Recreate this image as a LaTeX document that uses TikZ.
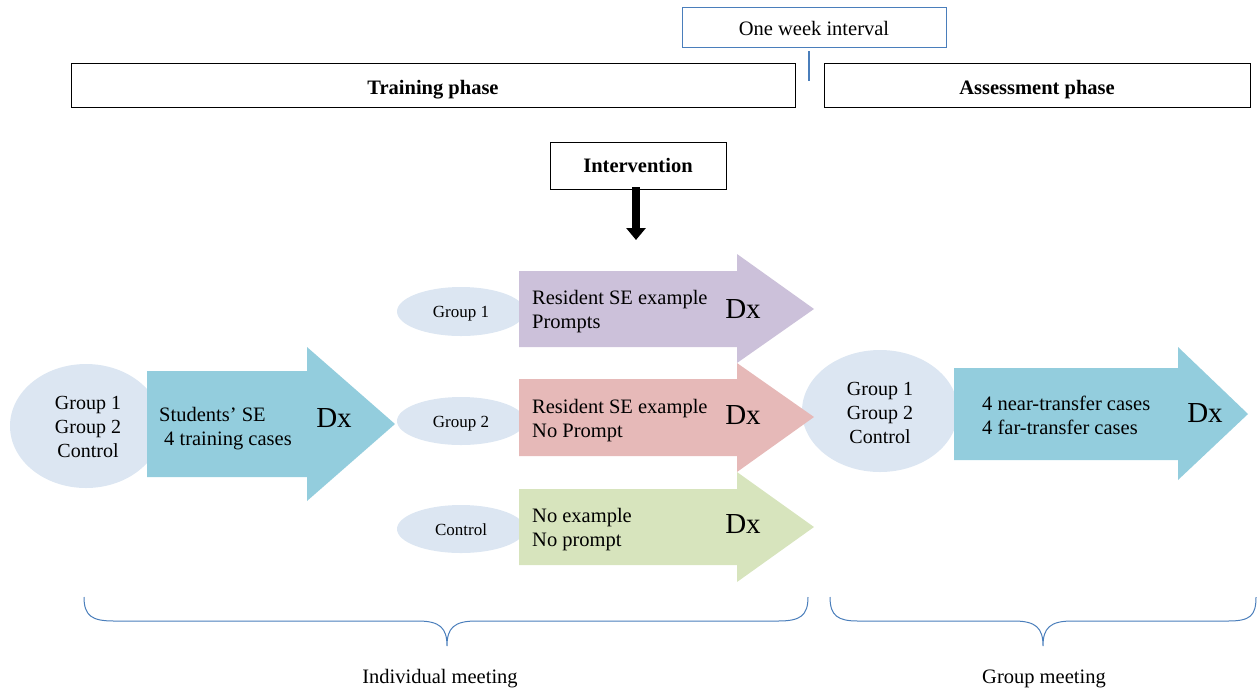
\documentclass[tikz,border=0pt]{standalone}
\usepackage{fontspec}
\setmainfont{Liberation Serif}
\usetikzlibrary{shapes.geometric,arrows.meta}
\definecolor{framblue}{HTML}{4A7EBB}
\definecolor{ellfill}{HTML}{DCE6F2}
\definecolor{arrblue}{HTML}{93CDDD}
\definecolor{arrpurple}{HTML}{CCC1DA}
\definecolor{arrpink}{HTML}{E6B9B8}
\definecolor{arrgreen}{HTML}{D7E4BD}
\tikzset{
  txt/.style={font=\fontsize{20.5}{24}\selectfont, inner sep=0pt},
  small/.style={font=\fontsize{17}{20}\selectfont, inner sep=0pt},
  biglab/.style={font=\fontsize{20}{24}\selectfont, inner sep=0pt, align=center},
  dxlabel/.style={font=\fontsize{29}{32}\selectfont, inner sep=0pt},
  phasebox/.style={draw=black, line width=0.9pt, inner sep=0pt, font=\fontsize{20.5}{24}\selectfont\bfseries},
  grpell/.style={ellipse, fill=ellfill, inner sep=0pt},
  brace/.style={draw=framblue, line width=1pt},
}
\begin{document}
\begin{tikzpicture}[x=1pt,y=-1pt]
\useasboundingbox (0,0) rectangle (1257,689);

% top boxes
\node[draw=framblue, line width=1pt, minimum width=264pt, minimum height=40pt, inner sep=0pt, font=\fontsize{20.5}{24}\selectfont] (week) at (814,27) {\raisebox{0pt}[16pt][0pt]{One week interval}};
\coordinate (weekend) at (809,81);
\draw[framblue, line width=1.2pt] (809,51) -- (weekend);
\node[phasebox, minimum width=724pt, minimum height=44pt] (train) at (433,85) {\raisebox{0pt}[18pt][0pt]{Training phase}};
\node[phasebox, minimum width=426pt, minimum height=44pt] (assess) at (1037,85) {\raisebox{0pt}[18pt][0pt]{Assessment phase}};

% intervention
\node[phasebox, minimum width=176pt, minimum height=47pt] (interv) at (638,165.5) {Intervention};
\coordinate (intervtip) at (636,240);
\draw[line width=8pt, -{Triangle[width=19pt,length=12pt]}, black] (interv.south -| intervtip) ++(0,-2) -- (intervtip);

% ellipses
\node[grpell, minimum width=152pt, minimum height=124pt] (ellL) at (86,426) {};
\node[grpell, minimum width=128pt, minimum height=49pt] (ellG1) at (461,311.5) {};
\node[grpell, minimum width=128pt, minimum height=48pt] (ellG2) at (461,421) {};
\node[grpell, minimum width=128pt, minimum height=48pt] (ellC) at (461,529) {};
\node[grpell, minimum width=156pt, minimum height=122pt] (ellR) at (880,411) {};

% block arrows
\fill[arrblue] (147,371) -- (307,371) -- (307,347) -- (395,424) -- (307,501) -- (307,477) -- (147,477) -- cycle;
\fill[arrpurple] (519,271) -- (737,271) -- (737,254) -- (814,309) -- (737,363) -- (737,347) -- (519,347) -- cycle;
\fill[arrpink] (519,379) -- (737,379) -- (737,363) -- (814,417) -- (737,472) -- (737,456) -- (519,456) -- cycle;
\fill[arrgreen] (519,489) -- (737,489) -- (737,472) -- (814,527) -- (737,582) -- (737,565) -- (519,565) -- cycle;
\fill[arrblue] (954,368) -- (1178,368) -- (1178,347) -- (1248,414) -- (1178,480) -- (1178,460) -- (954,460) -- cycle;

% ellipse labels
\node[biglab] (llab) at (88,427) {Group 1\\Group 2\\Control};
\node[biglab] (rlab) at ([yshift=-1.5pt]ellR.center) {Group 1\\Group 2\\Control};
\node[small] (g1lab) at ([yshift=-2pt]ellG1.center) {Group 1};
\node[small] (g2lab) at ([yshift=-2.5pt]ellG2.center) {Group 2};
\node[small] (clab) at ([yshift=-1pt]ellC.center) {Control};

% arrow texts
\node[txt, align=left, anchor=west] (studtxt) at (159,429) {Students’ SE\\\hspace{5pt}4 training cases};
\node[dxlabel] (dx0) at (334,418) {Dx};
\node[txt, align=left, anchor=west] (p1txt) at (532,312) {Resident SE example\\Prompts};
\node[dxlabel] (dx1) at (743,309) {Dx};
\node[txt, align=left, anchor=west] (p2txt) at (532,420.5) {Resident SE example\\No Prompt};
\node[dxlabel] (dx2) at (743,415) {Dx};
\node[txt, align=left, anchor=west] (p3txt) at (532,530) {No example\\No prompt};
\node[dxlabel] (dx3) at (743,524) {Dx};
\node[txt, align=left, anchor=west] (rtxt) at (982,415) {4 near-transfer cases\\4 far-transfer cases};
\node[dxlabel] (dx4) at (1205,413) {Dx};

% braces
\draw[brace] (84,597) .. controls (84,616) and (92,621) .. (114,621) -- (418,621)
  .. controls (440,621) and (447,628) .. (447,646)
  .. controls (447,628) and (454,621) .. (476,621) -- (778,621)
  .. controls (800,621) and (808,616) .. (808,597);
\draw[brace] (830,597) .. controls (830,616) and (838,621) .. (858,621) -- (1014,621)
  .. controls (1036,621) and (1043,628) .. (1043,646)
  .. controls (1043,628) and (1050,621) .. (1072,621) -- (1228,621)
  .. controls (1250,621) and (1256,616) .. (1256,597);
\node[txt] (indiv) at (440,679) {Individual meeting};
\node[txt] (grpm) at (1044,679) {Group meeting};
\end{tikzpicture}
\end{document}
